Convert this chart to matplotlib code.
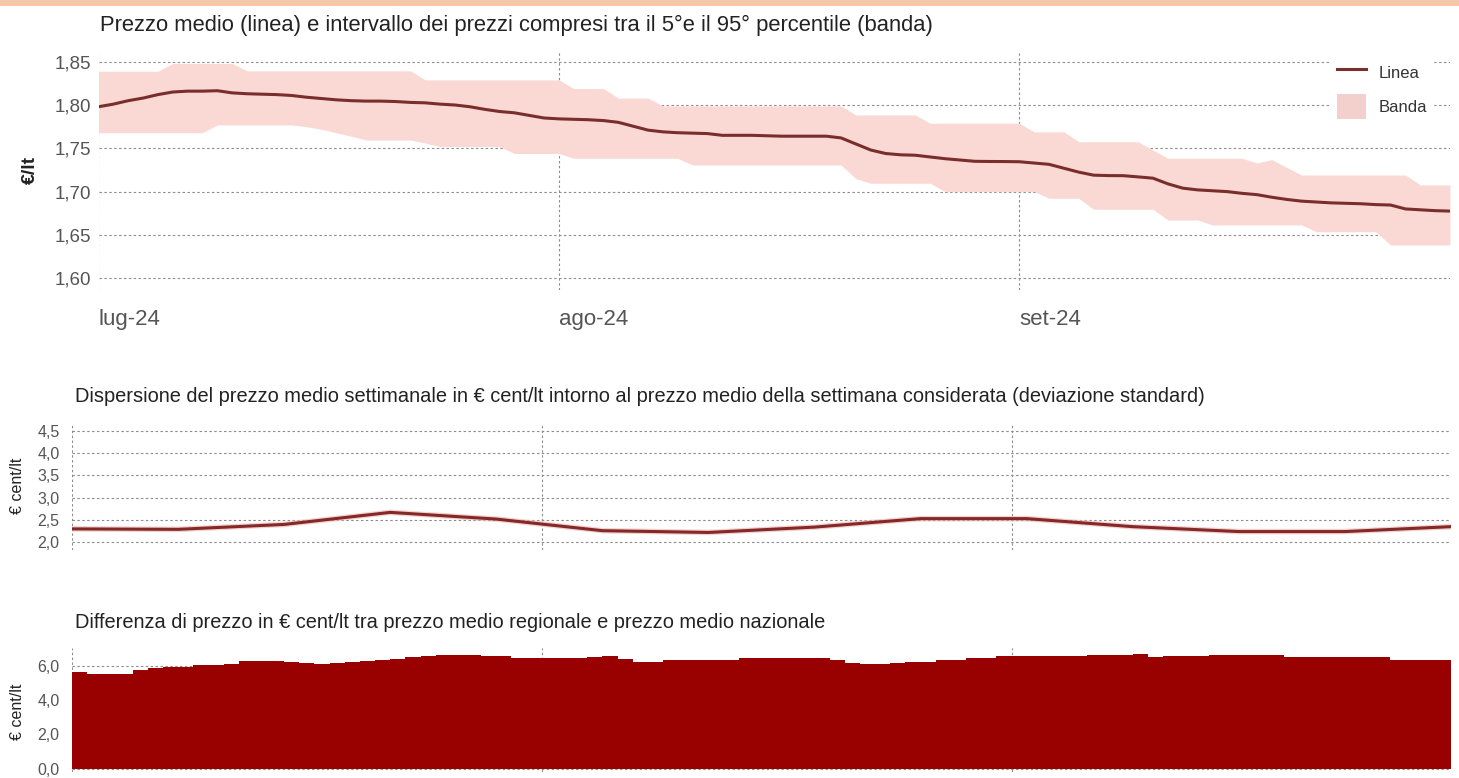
import matplotlib
matplotlib.use("Agg")
import matplotlib.pyplot as plt
import matplotlib.dates as mdates
from matplotlib.lines import Line2D
from matplotlib.patches import Patch, Rectangle
import pandas as pd
import numpy as np

# ---------------- data ----------------
days = pd.date_range("2024-07-01", "2024-09-30", freq="D")          # 92 days
weeks = pd.date_range("2024-07-01", "2024-09-30", freq="7D")        # 14 Mondays
diff_edges = pd.date_range("2024-07-01", "2024-09-30", freq="D")    # 92 edges -> 91 steps

prezzo_medio = [1.798, 1.801, 1.805, 1.808, 1.812, 1.815, 1.816, 1.816, 1.8165, 1.814,
                1.813, 1.8125, 1.812, 1.811, 1.809, 1.8075, 1.806, 1.805, 1.8045, 1.8045,
                1.804, 1.803, 1.8025, 1.801, 1.800, 1.798, 1.795, 1.7925, 1.791, 1.788,
                1.785, 1.784, 1.7835, 1.783, 1.782, 1.780, 1.7755, 1.771, 1.769, 1.768,
                1.7675, 1.767, 1.765, 1.765, 1.765, 1.7645, 1.764, 1.764, 1.764, 1.764,
                1.762, 1.755, 1.748, 1.744, 1.7425, 1.742, 1.740, 1.738, 1.7365, 1.735,
                1.7348, 1.7347, 1.7345, 1.733, 1.7315, 1.727, 1.7225, 1.719, 1.7185, 1.7184,
                1.717, 1.7155, 1.709, 1.704, 1.702, 1.701, 1.700, 1.698, 1.6965, 1.6935,
                1.691, 1.689, 1.688, 1.687, 1.6865, 1.686, 1.685, 1.6845, 1.680, 1.679,
                1.678, 1.6775]

percentile_95 = [1.839, 1.839, 1.839, 1.839, 1.839,
                 1.848, 1.848, 1.848, 1.848, 1.848,
                 1.8395, 1.8395, 1.8395, 1.8395, 1.8395, 1.8395,
                 1.8395, 1.8395, 1.8395, 1.8395, 1.8395, 1.8395,
                 1.829, 1.829, 1.829, 1.829, 1.829, 1.829, 1.829, 1.829, 1.829, 1.829,
                 1.819, 1.819, 1.819,
                 1.808, 1.808, 1.808,
                 1.799, 1.799, 1.799, 1.799, 1.799, 1.799, 1.799,
                 1.799, 1.799, 1.799, 1.799, 1.799, 1.799,
                 1.7885, 1.7885, 1.7885, 1.7885, 1.7885,
                 1.779, 1.779, 1.779, 1.779, 1.779, 1.779, 1.779,
                 1.769, 1.769, 1.769,
                 1.7576, 1.7576, 1.7576, 1.7576, 1.7576,
                 1.748,
                 1.7385, 1.7385, 1.7385, 1.7385, 1.7385, 1.7385,
                 1.733, 1.737, 1.728,
                 1.7192, 1.7192, 1.7192, 1.7192, 1.7192, 1.7192, 1.7192, 1.7192,
                 1.7077, 1.7077, 1.7077]

percentile_5 = [1.768, 1.768, 1.768, 1.768, 1.768, 1.768, 1.768, 1.768,
                1.777, 1.777, 1.777, 1.777, 1.777, 1.777,
                1.775, 1.772, 1.768, 1.764,
                1.7596, 1.7596, 1.7596, 1.7596,
                1.756,
                1.752, 1.752, 1.752, 1.752, 1.752,
                1.744, 1.744, 1.744, 1.744,
                1.7385, 1.7385, 1.7385, 1.7385, 1.7385, 1.7385, 1.7385, 1.7385,
                1.7307, 1.7307, 1.7307, 1.7307, 1.7307, 1.7307,
                1.7307, 1.7307, 1.7307, 1.7307, 1.7307,
                1.715,
                1.7096, 1.7096, 1.7096, 1.7096, 1.7096,
                1.700, 1.700, 1.700, 1.700, 1.700, 1.700, 1.700,
                1.6923, 1.6923, 1.6923,
                1.6796, 1.6796, 1.6796, 1.6796, 1.6796,
                1.6672, 1.6672, 1.6672,
                1.6615, 1.6615, 1.6615, 1.6615, 1.6615, 1.6615, 1.6615,
                1.6537, 1.6537, 1.6537, 1.6537, 1.6537,
                1.6384, 1.6384, 1.6384, 1.6384, 1.6384]

dev_standard = [2.30, 2.29, 2.40, 2.67, 2.52, 2.26, 2.22, 2.34, 2.53, 2.53, 2.35, 2.24, 2.24, 2.35]

diff_regionale = [5.63, 5.49, 5.51, 5.53, 5.76, 5.88, 5.90, 5.93, 6.02, 6.05,
                  6.11, 6.25, 6.25, 6.25, 6.22, 6.17, 6.11, 6.12, 6.23, 6.25,
                  6.31, 6.38, 6.50, 6.58, 6.64, 6.62, 6.60, 6.58, 6.56, 6.45,
                  6.41, 6.41, 6.41, 6.41, 6.50, 6.54, 6.38, 6.22, 6.19, 6.31,
                  6.33, 6.35, 6.31, 6.35, 6.41, 6.41, 6.46, 6.46, 6.46, 6.46,
                  6.31, 6.15, 6.07, 6.10, 6.15, 6.20, 6.22, 6.31, 6.31, 6.46,
                  6.46, 6.54, 6.54, 6.54, 6.54, 6.54, 6.56, 6.60, 6.60, 6.60,
                  6.66, 6.50, 6.56, 6.56, 6.56, 6.62, 6.62, 6.62, 6.62, 6.62,
                  6.50, 6.50, 6.50, 6.50, 6.50, 6.50, 6.50, 6.31, 6.31, 6.31, 6.31]

month_ticks = ["2024-07-01", "2024-08-01", "2024-09-01"]
month_labels = ["lug-24", "ago-24", "set-24"]
y_top_ticks = [1.60, 1.65, 1.70, 1.75, 1.80, 1.85]
y_mid_ticks = [2.0, 2.5, 3.0, 3.5, 4.0, 4.5]
y_bot_ticks = [0.0, 2.0, 4.0, 6.0]

titolo_1 = "Prezzo medio (linea) e intervallo dei prezzi compresi tra il 5°e il 95° percentile (banda)"
titolo_2 = ("Dispersione del prezzo medio settimanale in € cent/lt intorno al prezzo medio "
            "della settimana considerata (deviazione standard)")
titolo_3 = "Differenza di prezzo in € cent/lt tra prezzo medio regionale e prezzo medio nazionale"

# ---------------- style ----------------
plt.rcParams["font.family"] = ["Liberation Sans", "DejaVu Sans"]
W, H = 1459, 778
fig = plt.figure(figsize=(W / 100, H / 100), dpi=100)
fig.patch.set_facecolor("white")


def rect(l, t, r, b):
    return [l / W, 1 - b / H, (r - l) / W, (b - t) / H]


def comma(v, nd):
    return f"{v:.{nd}f}".replace(".", ",")


LINE_C = "#7a2e2c"
BAND_C = "#fad9d4"
GRID_C = "#8c8c8c"
TICK_C = "#555555"
AREA_C = "#990000"

x_days = mdates.date2num(days)
x_weeks = mdates.date2num(weeks)
x_edges = mdates.date2num(diff_edges)
x0 = mdates.date2num(pd.Timestamp("2024-07-01"))
x1 = mdates.date2num(pd.Timestamp("2024-09-30"))
x_month = mdates.date2num(pd.to_datetime(month_ticks))


def style_axes(ax, yticks, nd, fs, pad):
    for s in ax.spines.values():
        s.set_visible(False)
    ax.set_xlim(x0, x1)
    ax.set_yticks(yticks)
    ax.set_yticklabels([comma(v, nd) for v in yticks])
    ax.tick_params(axis="both", length=0, labelsize=fs, colors=TICK_C, pad=pad)
    ax.set_xticks(x_month)
    ax.grid(True, axis="both", color=GRID_C, linestyle=(0, (2.2, 2.2)), linewidth=0.8)
    ax.set_axisbelow(True)


# peach strip at top
fig.patches.append(Rectangle((0, 1 - 6 / H), 1, 6 / H, transform=fig.transFigure,
                             facecolor="#f7c8a8", edgecolor="none"))

# ---- top panel ----
ax1 = fig.add_axes(rect(98.5, 52, 1450, 290))
style_axes(ax1, y_top_ticks, 2, 13.5, 5)
ax1.set_ylim(1.5864, 1.8612)
ax1.fill_between(x_days, percentile_5, percentile_95, color=BAND_C, linewidth=0, zorder=2)
ax1.plot(x_days, prezzo_medio, color=LINE_C, linewidth=2.2, zorder=3)
ax1.set_xticklabels(month_labels, ha="left")
ax1.tick_params(axis="x", pad=14, labelsize=16)
fig.text(30 / W, 1 - 170 / H, "€/lt", rotation=90, ha="center", va="center",
         fontsize=14, fontweight="bold", color="#222222")
fig.text(100 / W, 1 - 25 / H, titolo_1, ha="left", va="center", fontsize=15.8, color="#222222")

handles = [Line2D([0], [0], color=LINE_C, linewidth=2.2),
           Patch(facecolor="#f3d0cb", edgecolor="none")]
leg = ax1.legend(handles, ["Linea", "Banda"], loc="upper left",
                 bbox_to_anchor=(1323 / W, 1 - 46 / H), bbox_transform=fig.transFigure,
                 frameon=True, fancybox=False, framealpha=1, edgecolor="white",
                 facecolor="white", handlelength=1.75, handleheight=1.95,
                 labelspacing=0.5, borderpad=0.35, handletextpad=0.75,
                 prop={"family": ["Liberation Sans Narrow", "Liberation Sans"], "size": 12})
for t in leg.get_texts():
    t.set_color("#333333")

# ---- middle panel ----
ax2 = fig.add_axes(rect(72, 425, 1451, 550))
style_axes(ax2, y_mid_ticks, 1, 11.5, 9)
ax2.set_ylim(1.827, 4.628)
ax2.set_xticklabels([])
ax2.plot(x_weeks, dev_standard, color="#e9b4b0", linewidth=4.0, zorder=2, alpha=0.6)
ax2.plot(x_weeks, dev_standard, color="#842828", linewidth=2.2, zorder=3)
fig.text(18 / W, 1 - 486 / H, "€ cent/lt", rotation=90, ha="center", va="center",
         fontsize=11.5, color="#222222")
fig.text(75 / W, 1 - 397 / H, titolo_2, ha="left", va="center", fontsize=14.4, color="#222222")

# ---- bottom panel ----
ax3 = fig.add_axes(rect(72, 648, 1451, 772))
style_axes(ax3, y_bot_ticks, 1, 11.5, 9)
ax3.set_ylim(-0.2, 7.02)
ax3.set_xticklabels([])
ax3.stairs(diff_regionale, x_edges, baseline=0, fill=True, color=AREA_C, zorder=2)
fig.text(18 / W, 1 - 712 / H, "€ cent/lt", rotation=90, ha="center", va="center",
         fontsize=11.5, color="#222222")
fig.text(75 / W, 1 - 622 / H, titolo_3, ha="left", va="center", fontsize=14.4, color="#222222")

fig.savefig("out.png", dpi=100, facecolor="white")
